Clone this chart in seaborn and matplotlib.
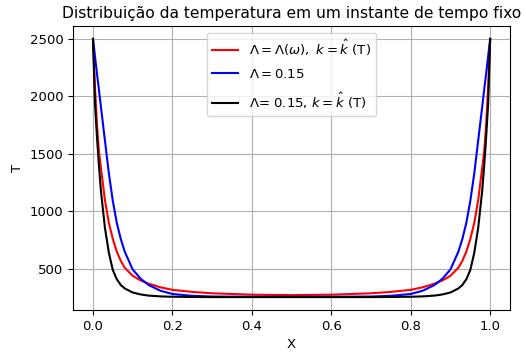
import matplotlib
matplotlib.use("Agg")
import matplotlib.pyplot as plt
import seaborn as sns
import pandas as pd

# Position along the bar (X) and temperature profiles (T) at a fixed time
x_pos = [0.0, 0.005, 0.01, 0.015, 0.02, 0.03, 0.04, 0.05, 0.06, 0.07, 0.08,
         0.10, 0.12, 0.14, 0.17, 0.20, 0.25, 0.30, 0.40, 0.50,
         0.60, 0.70, 0.75, 0.80, 0.83, 0.86, 0.88, 0.90, 0.92, 0.93,
         0.94, 0.95, 0.96, 0.97, 0.98, 0.985, 0.99, 0.995, 1.0]

temp_lambda_omega_khat = [2500, 2080, 1760, 1520, 1380, 1100, 900, 760, 650, 570, 510,
                          440, 400, 372, 340, 318, 300, 288, 276, 272,
                          276, 288, 300, 318, 340, 372, 400, 440, 510, 570,
                          650, 760, 900, 1100, 1380, 1520, 1760, 2080, 2500]

temp_lambda_015 = [2500, 2350, 2200, 2060, 1910, 1620, 1330, 1090, 900, 760, 650,
                   495, 415, 360, 310, 282, 266, 260, 258, 258,
                   258, 260, 266, 282, 310, 360, 415, 495, 650, 760,
                   900, 1090, 1330, 1620, 1910, 2060, 2200, 2350, 2500]

temp_lambda_015_khat = [2500, 1940, 1650, 1400, 1180, 860, 640, 490, 410, 360, 330,
                        295, 278, 268, 261, 258, 256, 255, 255, 255,
                        255, 255, 256, 258, 261, 268, 278, 295, 330, 360,
                        410, 490, 640, 860, 1180, 1400, 1650, 1940, 2500]

labels = [r"$\Lambda = \Lambda(\omega),\ k = \hat{k}$ (T)",
          r"$\Lambda = 0.15$",
          r"$\Lambda$= 0.15, $k = \hat{k}$ (T)"]
colors = ["red", "blue", "black"]
series = [temp_lambda_omega_khat, temp_lambda_015, temp_lambda_015_khat]

plt.rcParams["font.size"] = 9.5

fig = plt.figure(figsize=(5.26, 3.54), dpi=100)
ax = fig.add_axes([0.139, 0.1243, 0.8306, 0.8023])

for vals, lab, col in zip(series, labels, colors):
    df = pd.DataFrame({"X": x_pos, "T": vals})
    sns.lineplot(data=df, x="X", y="T", color=col, label=lab, ax=ax,
                 linewidth=1.5, sort=False)

ax.set_title("Distribuição da temperatura em um instante de tempo fixo", fontsize=11.2)
ax.set_xlabel("X")
ax.set_ylabel("T")
ax.set_xticks([0.0, 0.2, 0.4, 0.6, 0.8, 1.0])
ax.set_yticks([500, 1000, 1500, 2000, 2500])
ax.grid(True)
ax.legend(loc="upper center", labelspacing=0.75)

fig.savefig("out.png", dpi=100)
